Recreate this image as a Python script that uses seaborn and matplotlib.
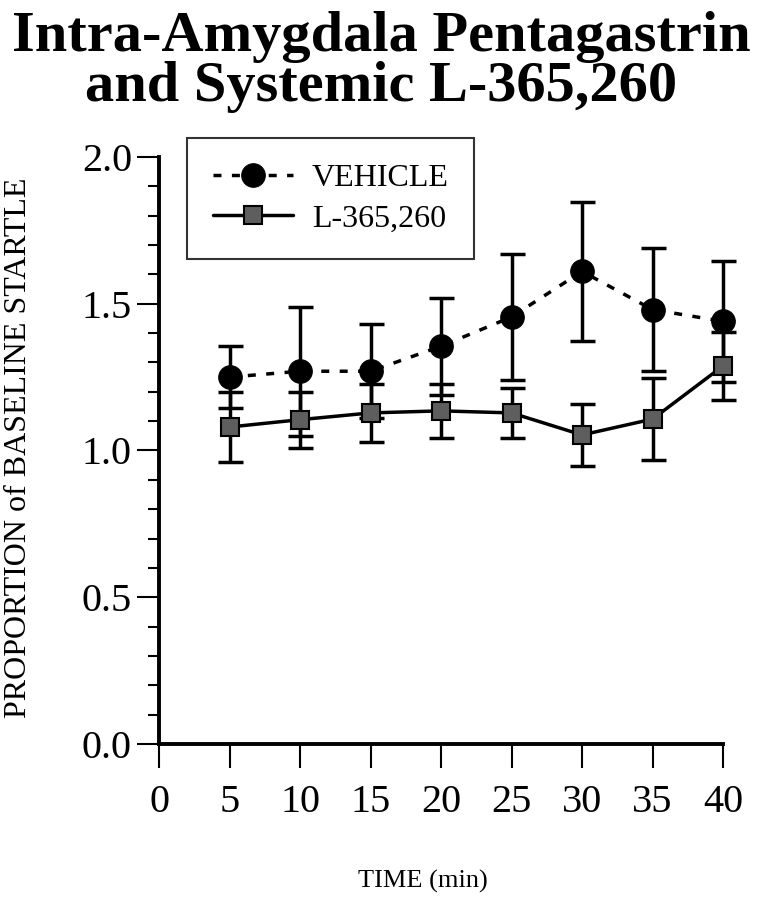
import pandas as pd
import numpy as np
import matplotlib.pyplot as plt
import seaborn as sns
from matplotlib.ticker import MultipleLocator

times = [5, 10, 15, 20, 25, 30, 35, 40]
vehicle = [1.25, 1.27, 1.27, 1.355, 1.455, 1.61, 1.48, 1.44]
vehicle_err = [0.105, 0.22, 0.16, 0.165, 0.215, 0.237, 0.21, 0.205]
drug = [1.08, 1.105, 1.128, 1.135, 1.128, 1.053, 1.107, 1.288]
drug_err = [0.12, 0.095, 0.10, 0.092, 0.085, 0.105, 0.14, 0.115]

df = pd.DataFrame({"time": times * 2,
                   "value": vehicle + drug,
                   "group": ["VEHICLE"] * 8 + ["L-365,260"] * 8})

sns.set_style("ticks", {"axes.edgecolor": "black", "text.color": "black",
                        "axes.labelcolor": "black", "xtick.color": "black",
                        "ytick.color": "black"})
plt.rcParams['font.family'] = ['Liberation Serif', 'DejaVu Serif']

fig = plt.figure(figsize=(7.63, 8.99), dpi=100)
ax = fig.add_axes([0.2084, 0.1724, 0.7392, 0.653])

# error bars first so markers sit on top
ax.errorbar(times, vehicle, yerr=vehicle_err, fmt='none', ecolor='black',
            elinewidth=2.5, capsize=9, capthick=2.5, zorder=2, clip_on=False)
ax.errorbar(times, drug, yerr=drug_err, fmt='none', ecolor='black',
            elinewidth=2.5, capsize=9, capthick=2.5, zorder=2, clip_on=False)

veh = df[df.group == "VEHICLE"]
l365 = df[df.group == "L-365,260"]
sns.lineplot(data=veh, x="time", y="value", ax=ax, color='black', lw=2.5,
             marker='o', markersize=17, markerfacecolor='black',
             markeredgecolor='black', label="VEHICLE", zorder=3, clip_on=False)
sns.lineplot(data=l365, x="time", y="value", ax=ax, color='black', lw=2.5,
             marker='s', markersize=13, markerfacecolor='#5e5e5e',
             markeredgecolor='black', markeredgewidth=1.5,
             label="L-365,260", zorder=4, clip_on=False)
ax.lines[-2].set_dashes([2.3, 3.0])

ax.set_xlim(0, 40)
ax.set_ylim(0, 2.0)
ax.set_xticks(range(0, 41, 5))
ax.yaxis.set_major_locator(MultipleLocator(0.5))
ax.yaxis.set_minor_locator(MultipleLocator(0.1))
ax.yaxis.set_major_formatter(plt.FormatStrFormatter('%.1f'))
sns.despine(ax=ax)
for s in ['left', 'bottom']:
    ax.spines[s].set_linewidth(2.8)
ax.tick_params(axis='both', which='major', length=16, width=1.5,
               labelsize=29, direction='out', color='black', labelcolor='black')
ax.tick_params(axis='x', which='major', length=17, pad=12)
ax.tick_params(axis='y', which='minor', length=8, width=1.5, color='black')

ax.set_xlabel("TIME (min)", fontsize=19, color='black')
ax.xaxis.set_label_coords(0.468, -0.215)
ax.set_ylabel("PROPORTION of BASELINE STARTLE", fontsize=23, color='black')
ax.yaxis.set_label_coords(-0.223, 0.505)

leg = ax.legend(loc='upper left', bbox_to_anchor=(0.05, 1.032), fontsize=23,
                frameon=True, fancybox=False, edgecolor='black',
                handlelength=2.5, handletextpad=0.6, borderpad=0.8,
                labelspacing=0.35, borderaxespad=0)
leg.get_frame().set_linewidth(1.5)
for t in leg.get_texts():
    t.set_color('black')

fig.text(0.5, 0.988, "Intra-Amygdala Pentagastrin\nand Systemic L-365,260",
         ha='center', va='top', fontsize=42, fontweight='bold', linespacing=0.95,
         color='black')

fig.savefig("out.png", dpi=100)
